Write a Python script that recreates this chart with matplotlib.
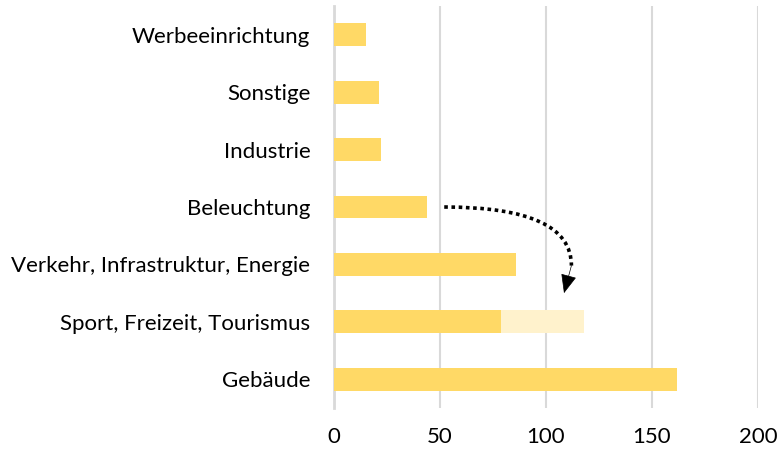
import matplotlib.pyplot as plt

# Daten (von oben nach unten im Bild)
kategorien = ['Werbeeinrichtung', 'Sonstige', 'Industrie', 'Beleuchtung',
              'Verkehr, Infrastruktur, Energie', 'Sport, Freizeit, Tourismus', 'Gebäude']
werte = [15, 21, 22, 44, 86, 79, 162]
zusatz = [0, 0, 0, 0, 0, 39, 0]   # heller Anteil bei Sport

plt.rcParams['font.family'] = ['Lato', 'DejaVu Sans']

fig = plt.figure(figsize=(7.8, 4.54), dpi=100)
ax = fig.add_axes([334 / 780, 1 - 408 / 454, 424 / 780, 402 / 454])

kat = kategorien[::-1]
w = werte[::-1]
z = zusatz[::-1]
pos = list(range(len(kat)))

ax.barh(pos, w, height=0.4, color='#FFD966', zorder=3)
ax.barh(pos, z, left=w, height=0.4, color='#FFF2CC', zorder=3)

ax.set_xlim(0, 200)
ax.set_ylim(-0.5, len(kat) - 0.5)
ax.set_xticks([0, 50, 100, 150, 200])
ax.set_yticks(pos)
ax.set_yticklabels(kat)
ax.tick_params(axis='both', length=0, labelsize=16, colors='#000000')
ax.tick_params(axis='y', pad=17)
ax.tick_params(axis='x', pad=14)
ax.grid(axis='x', color='#D9D9D9', linewidth=1.5, zorder=0)
for s in ['top', 'right', 'bottom']:
    ax.spines[s].set_visible(False)
ax.spines['left'].set_color('#D9D9D9')
ax.spines['left'].set_linewidth(2)

# gepunktete Kurve von Beleuchtung nach unten
ax.annotate('', xy=(112, 1.98), xytext=(52, 3.0),
            arrowprops=dict(arrowstyle='-', linestyle=(0, (1, 1)), linewidth=2.6,
                            color='black', capstyle='butt',
                            connectionstyle='angle3,angleA=0,angleB=90',
                            shrinkA=0, shrinkB=0),
            zorder=5)
# Pfeilspitze
ax.annotate('', xy=(108.5, 1.5), xytext=(112, 1.98),
            arrowprops=dict(arrowstyle='-|>,head_length=1.0,head_width=0.42',
                            mutation_scale=12, linewidth=0.5, color='black',
                            shrinkA=0, shrinkB=0),
            zorder=5)

fig.savefig('out.png', dpi=100)
